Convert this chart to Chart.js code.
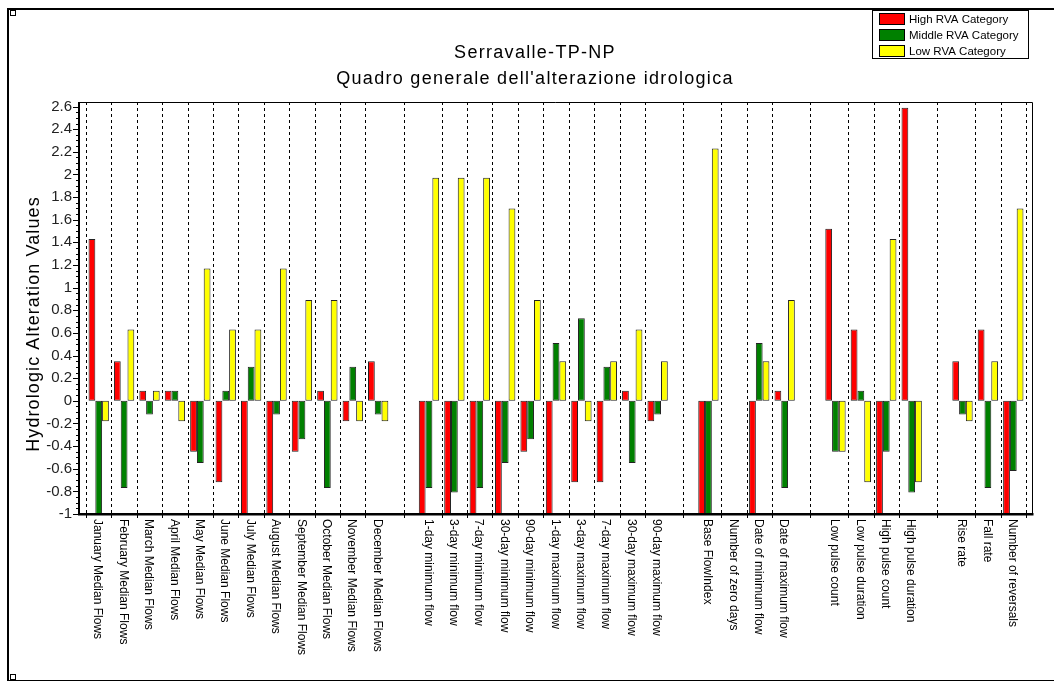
<!DOCTYPE html>
<html>
<head>
<meta charset="utf-8">
<script src="https://cdn.jsdelivr.net/npm/chart.js@4.4.1/dist/chart.umd.min.js"></script>
<style>
  html, body { margin: 0; padding: 0; background: #fff; }
  canvas { display: block; }
</style>
</head>
<body>
<canvas id="rvaChart" width="1054" height="681"></canvas>
<script>
// categories, '' = empty slot between groups
let categories = [
    "January Median Flows", "February Median Flows", "March Median Flows", "April Median Flows",
    "May Median Flows", "June Median Flows", "July Median Flows", "August Median Flows",
    "September Median Flows", "October Median Flows", "November Median Flows", "December Median Flows",
    "",
    "1-day minimum flow", "3-day minimum flow", "7-day minimum flow", "30-day minimum flow", "90-day minimum flow",
    "1-day maximum flow", "3-day maximum flow", "7-day maximum flow", "30-day maximum flow", "90-day maximum flow",
    "",
    "Base FlowIndex", "Number of zero days", "Date of minimum flow", "Date of maximum flow",
    "",
    "Low pulse count", "Low pulse duration", "High pulse count", "High pulse duration",
    "",
    "Rise rate", "Fall rate", "Number of reversals"
];

let highRVA = [1.43, 0.35, 0.09, 0.09, -0.45, -0.72, -1, -1, -0.45, 0.09, -0.18, 0.35, null,
    -1, -1, -1, -1, -0.45, -1, -0.72, -0.72, 0.09, -0.18, null,
    -1, 0, -1, 0.09, null,
    1.52, 0.63, -1, 2.59, null,
    0.35, 0.63, -1];

let middleRVA = [-1, -0.77, -0.12, 0.09, -0.55, 0.09, 0.30, -0.12, -0.34, -0.77, 0.30, -0.12, null,
    -0.77, -0.81, -0.77, -0.55, -0.34, 0.51, 0.73, 0.30, -0.55, -0.12, null,
    -1, 0, 0.51, -0.77, null,
    -0.45, 0.09, -0.45, -0.81, null,
    -0.12, -0.77, -0.62];

let lowRVA = [-0.18, 0.63, 0.09, -0.18, 1.17, 0.63, 0.63, 1.17, 0.89, 0.89, -0.18, -0.18, null,
    1.97, 1.97, 1.97, 1.70, 0.89, 0.35, -0.18, 0.35, 0.63, 0.35, null,
    2.23, 0, 0.35, 0.89, null,
    -0.45, -0.72, 1.43, -0.72, null,
    -0.18, 0.35, 1.70];

let seriesNames = ["High RVA Category", "Middle RVA Category", "Low RVA Category"];
let titleLines = ["Serravalle-TP-NP", "Quadro generale dell'alterazione idrologica"];
let yAxisTitle = "Hydrologic Alteration Values";

const FONT = "'Liberation Sans', Arial, sans-serif";

// dashed separators: category borders, but one line in the middle of each empty slot
function separatorXs(chart) {
    let x = chart.scales.x;
    let half = (x.getPixelForValue(1) - x.getPixelForValue(0)) / 2;
    let n = categories.length;
    let xs = [];
    for (let i = 0; i <= n; i++) {
        let blankHere = i < n && categories[i] === "";
        let blankBefore = i > 0 && categories[i - 1] === "";
        if (!blankHere && !blankBefore) {
            xs.push(i < n ? x.getPixelForValue(i) - half : x.getPixelForValue(n - 1) + half);
        }
        if (blankHere) xs.push(x.getPixelForValue(i));
    }
    return xs;
}

const decorations = {
    id: 'decorations',
    beforeDatasetsDraw(chart) {
        let ctx = chart.ctx;
        let a = chart.chartArea;
        ctx.save();
        ctx.strokeStyle = '#000';
        ctx.lineWidth = 1;
        ctx.setLineDash([3, 3]);
        separatorXs(chart).forEach(px => {
            let xx = Math.round(px) + 0.5;
            ctx.beginPath();
            ctx.moveTo(xx, a.top);
            ctx.lineTo(xx, a.bottom);
            ctx.stroke();
        });
        ctx.restore();
    },
    afterDraw(chart) {
        let ctx = chart.ctx;
        let a = chart.chartArea;
        let x = chart.scales.x;
        let y = chart.scales.y;
        let axisL = a.left - 7;
        let axisR = a.right + 6.5;
        ctx.save();

        // window border
        ctx.fillStyle = '#000';
        ctx.fillRect(7, 8, 1054 - 7, 2);
        ctx.fillRect(7, 8, 2, 681 - 8);
        ctx.fillRect(9, 680, 1045, 1);
        ctx.strokeStyle = '#000';
        ctx.lineWidth = 1;
        ctx.strokeRect(10.5, 10.5, 5, 5);
        ctx.strokeRect(10.5, 674.5, 5, 5);

        // plot frame
        ctx.beginPath();
        ctx.moveTo(axisL, a.top + 0.5);
        ctx.lineTo(axisR, a.top + 0.5);
        ctx.lineTo(axisR, a.bottom);
        ctx.stroke();
        ctx.fillRect(axisL - 1, a.top, 2, a.bottom - a.top + 1);
        ctx.fillRect(axisL - 1, a.bottom - 1, axisR - axisL + 2, 2.5);

        // y tick marks
        for (let v = -1; v <= 2.6001; v += 0.05) {
            let major = Math.abs(v * 5 - Math.round(v * 5)) < 1e-6;
            let py = Math.round(y.getPixelForValue(v)) + 0.5;
            ctx.beginPath();
            ctx.moveTo(axisL - (major ? 6 : 3), py);
            ctx.lineTo(axisL - 1, py);
            ctx.stroke();
        }
        // x tick marks under the axis
        separatorXs(chart).forEach(px => {
            let xx = Math.round(px) + 0.5;
            ctx.beginPath();
            ctx.moveTo(xx, a.bottom + 1);
            ctx.lineTo(xx, a.bottom + 4);
            ctx.stroke();
        });

        // category labels, rotated to read downwards
        ctx.font = '12px ' + FONT;
        ctx.fillStyle = '#000';
        ctx.textAlign = 'left';
        ctx.textBaseline = 'middle';
        categories.forEach((label, i) => {
            if (!label) return;
            ctx.save();
            ctx.translate(x.getPixelForValue(i) - 1, a.bottom + 5);
            ctx.rotate(Math.PI / 2);
            ctx.fillText(label, 0, 0);
            ctx.restore();
        });

        // titles
        ctx.letterSpacing = '1.3px';
        ctx.font = '18px ' + FONT;
        ctx.textAlign = 'center';
        ctx.textBaseline = 'alphabetic';
        ctx.fillText(titleLines[0], 535, 58);
        ctx.fillText(titleLines[1], 535, 84);

        ctx.letterSpacing = '1.1px';
        ctx.save();
        ctx.translate(39, 324);
        ctx.rotate(-Math.PI / 2);
        ctx.fillText(yAxisTitle, 0, 0);
        ctx.restore();
        ctx.letterSpacing = '0px';

        // legend box
        ctx.strokeStyle = '#000';
        ctx.strokeRect(872.5, 10.5, 156, 48);
        ctx.font = '11.5px ' + FONT;
        ctx.textAlign = 'left';
        ctx.textBaseline = 'middle';
        chart.data.datasets.forEach((ds, i) => {
            let cy = 19 + i * 16;
            ctx.fillStyle = ds.backgroundColor;
            ctx.fillRect(879, cy - 5, 25, 10);
            ctx.strokeRect(879.5, cy - 5.5, 25, 11);
            ctx.fillStyle = '#000';
            ctx.fillText(ds.label, 909, cy + 0.5);
        });

        ctx.restore();
    }
};

function makeDataset(label, values, color) {
    return {
        label: label,
        data: values,
        backgroundColor: color,
        borderColor: '#222',
        borderWidth: 1,
        borderSkipped: false,
        categoryPercentage: 0.8,
        barPercentage: 1.0
    };
}

window.onload = function() {
    let ctx = document.getElementById("rvaChart").getContext("2d");
    Chart.defaults.font.family = FONT;
    Chart.defaults.color = '#000';

    new Chart(ctx, {
        type: 'bar',
        data: {
            labels: categories,
            datasets: [
                makeDataset(seriesNames[0], highRVA, '#ff0000'),
                makeDataset(seriesNames[1], middleRVA, '#008000'),
                makeDataset(seriesNames[2], lowRVA, '#ffff00')
            ]
        },
        options: {
            responsive: false,
            animation: false,
            layout: {
                padding: { top: 102, right: 28, bottom: 167, left: 0 }
            },
            plugins: {
                legend: { display: false },
                title: { display: false },
                tooltip: { enabled: false }
            },
            scales: {
                x: {
                    display: false,
                    offset: true
                },
                y: {
                    min: -1,
                    max: 2.64,
                    grid: { display: false, drawTicks: false },
                    border: { display: false },
                    afterFit: function(scale) { scale.width = 86; },
                    afterBuildTicks: function(scale) {
                        scale.ticks = scale.ticks.filter(t => Math.abs(t.value * 5 - Math.round(t.value * 5)) < 1e-6);
                    },
                    ticks: {
                        stepSize: 0.2,
                        includeBounds: false,
                        padding: 14,
                        color: '#222',
                        font: { size: 15 },
                        callback: function(v) {
                            let r = parseFloat(Number(v).toFixed(1));
                            return String(r === 0 ? 0 : r);
                        }
                    }
                }
            }
        },
        plugins: [decorations]
    });
};
</script>
</body>
</html>
